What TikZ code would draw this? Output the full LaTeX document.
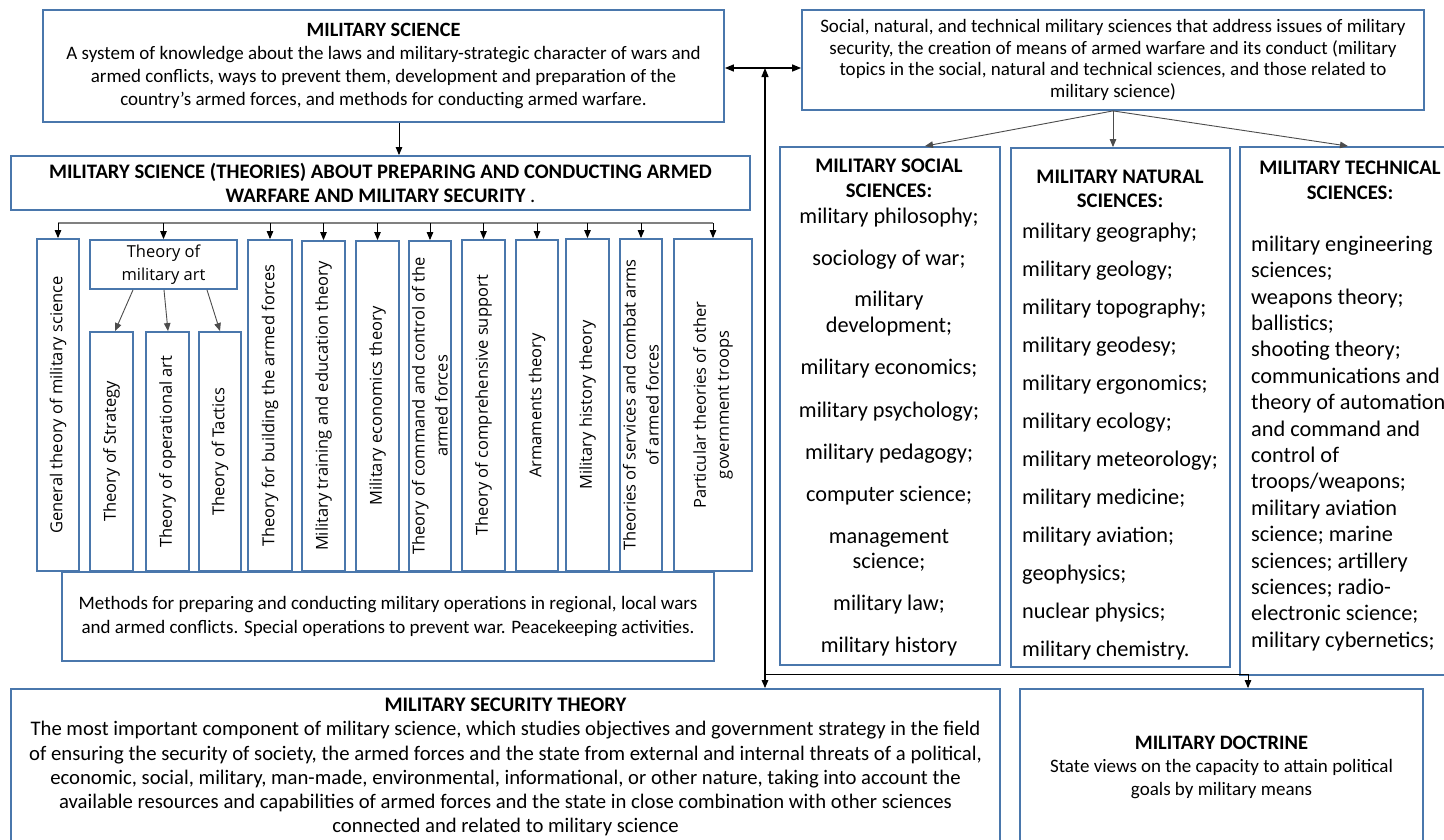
\documentclass[tikz,border=0pt]{standalone}
\usepackage{fontspec}
\setmainfont{Carlito}
\newfontfamily\osans{Open Sans}
\usetikzlibrary{arrows.meta}
\definecolor{boxblue}{HTML}{4A77AC}
\definecolor{busgray}{HTML}{808080}
\begin{document}
\begin{tikzpicture}[x=1pt,y=-1pt,
  box/.style={draw=boxblue, line width=1.8pt, inner sep=0pt, align=center, fill=white},
  arr/.style={-{Triangle[width=6.5pt,length=8pt]}, line width=0.9pt},
  garr/.style={-{Triangle[width=6.5pt,length=8pt]}, line width=0.9pt, draw=black!70},
  darr/.style={{Triangle[width=7pt,length=9pt]}-{Triangle[width=7pt,length=9pt]}, line width=1.4pt},
  coltext/.style={rotate=90, align=center, inner sep=0pt, font=\osans\fontsize{16.5}{23}\selectfont},
  listtext/.style={inner sep=0pt, font=\fontsize{22.3}{26}\selectfont},
  listtitle/.style={inner sep=0pt, font=\fontsize{20.7}{24}\selectfont\bfseries},
]
\useasboundingbox (0,0) rectangle (1444,839);
\clip (0,0) rectangle (1444,839);
\fill[white] (0,0) rectangle (1444,839);

% ---------- top left boxes ----------
\node[box, minimum width=681pt, minimum height=112pt, font=\fontsize{19}{22.7}\selectfont] (ms) at (383.5,66)
 {{\fontsize{20.3}{22.7}\selectfont\bfseries MILITARY SCIENCE}\\
  A system of knowledge about the laws and military-strategic character of wars and\\
  armed conflicts, ways to prevent them, development and preparation of the\\
  country's armed forces, and methods for conducting armed warfare.};

\node[box, minimum width=739pt, minimum height=54pt, font=\fontsize{20.6}{24}\selectfont\bfseries] (th) at (380.5,183)
 {MILITARY SCIENCE (THEORIES) ABOUT PREPARING AND CONDUCTING ARMED\\
  WARFARE AND MILITARY SECURITY {\normalfont .}};

\draw[arr] (ms.south -| 399,0) -- (th.north -| 399,0);

% ---------- top right box ----------
\node[box, minimum width=622pt, minimum height=100pt, font=\fontsize{19}{21.7}\selectfont] (rt) at (1113,60)
 {Social, natural, and technical military sciences that address issues of military\\
  security, the creation of means of armed warfare and its conduct (military\\
  topics in the social, natural and technical sciences, and those related to\\
  military science)};

% ---------- columns ----------
\node[box, minimum width=42pt, minimum height=332pt] (c1) at (58,405) {};
\node[box, minimum width=147pt, minimum height=49pt, font=\osans\fontsize{16.5}{23}\selectfont] (art) at (163.5,264.5) {Theory of\\ military art};
\node[box, minimum width=43pt, minimum height=239pt] (s1) at (111.5,451.5) {};
\node[box, minimum width=43pt, minimum height=239pt] (s2) at (167.5,451.5) {};
\node[box, minimum width=42pt, minimum height=239pt] (s3) at (220,451.5) {};
\node[box, minimum width=44pt, minimum height=331pt] (c3) at (270,405.5) {};
\node[box, minimum width=43pt, minimum height=330pt] (c4) at (323.5,406) {};
\node[box, minimum width=43pt, minimum height=330pt] (c5) at (377.5,406) {};
\node[box, minimum width=42pt, minimum height=330pt] (c6) at (430,406) {};
\node[box, minimum width=43pt, minimum height=331pt] (c7) at (483.5,405.5) {};
\node[box, minimum width=42pt, minimum height=331pt] (c8) at (537,405.5) {};
\node[box, minimum width=43pt, minimum height=332pt] (c9) at (587.5,405) {};
\node[box, minimum width=42pt, minimum height=332pt] (c10) at (641,405) {};
\node[box, minimum width=78pt, minimum height=332pt] (c11) at (713,405) {};

\node[coltext] (t1) at (c1) {General theory of military science};
\node[coltext] (ts1) at (s1) {Theory of Strategy};
\node[coltext] (ts2) at (s2) {Theory of operational art};
\node[coltext] (ts3) at (s3) {Theory of Tactics};
\node[coltext] (t3) at (c3) {Theory for building the armed forces};
\node[coltext] (t4) at (c4) {Military training and education theory};
\node[coltext] (t5) at (c5) {Military economics theory};
\node[coltext] (t6) at (c6) {Theory of command and control of the\\ armed forces};
\node[coltext] (t7) at (c7) {Theory of comprehensive support};
\node[coltext] (t8) at (c8) {Armaments theory};
\node[coltext] (t9) at (c9) {Military history theory};
\node[coltext] (t10) at (c10) {Theories of services and combat arms\\ of armed forces};
\node[coltext] (t11) at (c11) {Particular theories of other\\ government troops};

% bus
\coordinate (busL) at (58,223);
\coordinate (busR) at (713,223);
\draw[busgray, line width=1.8pt] (busL) -- (busR);
\foreach \n in {c1,art,c3,c4,c5,c6,c7,c8,c9,c10,c11}
  \draw[arr] (\n.north |- busL) -- (\n.north);

% military art arrows
\draw[garr] (art.south -| 133,0) -- (s1.north -| 115,0);
\draw[garr] (art.south -| 164,0) -- (s2.north -| 168,0);
\draw[garr] (art.south -| 207,0) -- (s3.north -| 220,0);

% methods
\node[box, minimum width=652pt, minimum height=89pt, font=\fontsize{19}{24}\selectfont] (meth) at (388,616.5)
 {Methods for preparing and conducting military operations in regional, local wars\\
  and armed conflicts. Special operations to prevent war. Peacekeeping activities.};

% ---------- right columns ----------
\node[box, minimum width=220pt, minimum height=518pt] (soc) at (890,406) {};
\node[box, minimum width=219pt, minimum height=519pt] (nat) at (1120.5,407.5) {};
\node[box, minimum width=220pt, minimum height=528pt] (tec) at (1350,411) {};

\node[listtitle, anchor=mid] (st1) at (889,170) {MILITARY SOCIAL};
\node[listtitle, anchor=mid] (st2) at (889,195) {SCIENCES:};
\foreach \y/\t [count=\i] in {
  221/{military philosophy;}, 263/{sociology of war;}, 304/{military}, 330/{development;},
  372/{military economics;}, 415/{military psychology;}, 457/{military pedagogy;},
  499/{computer science;}, 541/{management}, 566/{science;}, 608/{military law;}, 650/{military history}}
  \node[listtext, anchor=mid] (so\i) at (889,\y) {\t};

\node[listtitle, anchor=mid] (nt1) at (1120,181) {MILITARY NATURAL};
\node[listtitle, anchor=mid] (nt2) at (1120,205) {SCIENCES:};
\foreach \t [count=\i] in {
  {military geography;}, {military geology;}, {military topography;}, {military geodesy;},
  {military ergonomics;}, {military ecology;}, {military meteorology;}, {military medicine;},
  {military aviation;}, {geophysics;}, {nuclear physics;}, {military chemistry.}}
  \node[listtext, anchor=mid west] (na\i) at (1022,{236+38*(\i-1)}) {\t};

\node[listtitle, anchor=mid] (tt1) at (1350,172) {MILITARY TECHNICAL};
\node[listtitle, anchor=mid] (tt2) at (1350,197) {SCIENCES:};
\foreach \t [count=\i] in {
  {military engineering}, {sciences;}, {weapons theory;}, {ballistics;}, {shooting theory;},
  {communications and}, {theory of automation}, {and command and}, {control of},
  {troops/weapons;}, {military aviation}, {science; marine}, {sciences; artillery},
  {sciences; radio-}, {electronic science;}, {military cybernetics;}}
  \node[listtext, anchor=mid west] (te\i) at (1251,{249+26.4*(\i-1)}) {\t};

\draw[garr] (rt.south) -- (soc.north -| 925,0);
\draw[garr] (rt.south) -- (nat.north -| rt.south);
\draw[garr] (rt.south) -- (tec.north -| 1348,0);

% ---------- bottom boxes ----------
\node[box, minimum width=989pt, minimum height=156pt, font=\fontsize{20.7}{24.2}\selectfont] (sec) at (505.5,767)
 {\textbf{MILITARY SECURITY THEORY}\\
  The most important component of military science, which studies objectives and government strategy in the field\\
  of ensuring the security of society, the armed forces and the state from external and internal threats of a political,\\
  economic, social, military, man-made, environmental, informational, or other nature, taking into account the\\
  available resources and capabilities of armed forces and the state in close combination with other sciences\\
  connected and related to military science};

\node[box, minimum width=403pt, minimum height=156pt, font=\fontsize{19}{23}\selectfont] (doc) at (1221.5,767)
 {{\fontsize{20.5}{23}\selectfont\bfseries MILITARY DOCTRINE}\\
  State views on the capacity to attain political\\
  goals by military means};

% ---------- central connectors ----------
\coordinate (hl) at (765,68);
\coordinate (br) at (765,674);
\draw[darr] (ms.east |- hl) -- (rt.west |- hl);
\draw[{Triangle[width=7pt,length=9pt]}-{Triangle[width=6.5pt,length=8pt]}, line width=1.3pt] (hl) -- (sec.north -| hl);
\draw[arr] (br) -| (doc.north -| 1248,0);
\end{tikzpicture}
\end{document}
